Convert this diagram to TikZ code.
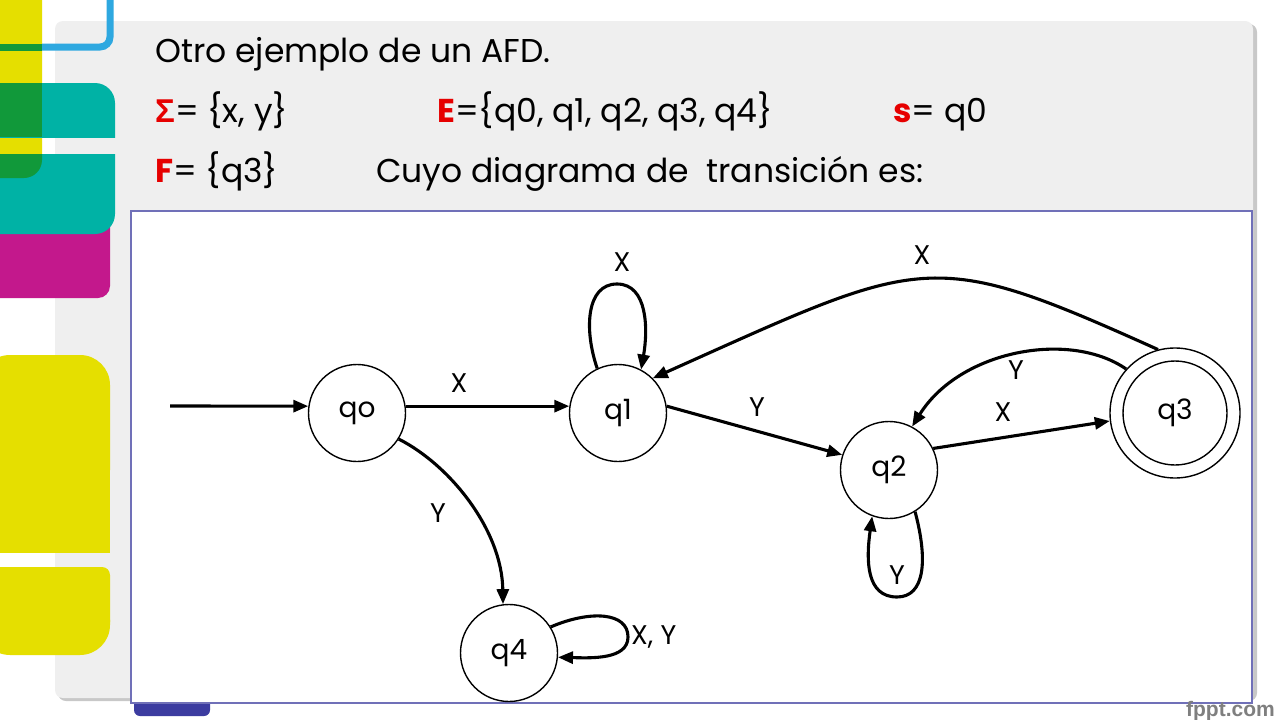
\documentclass[tikz,border=0pt]{standalone}
\usepackage{fontspec}
\setmainfont{Poppins}
\newfontfamily\symfont{Liberation Sans}
\newfontfamily\wmfont{Liberation Sans}
\usetikzlibrary{arrows.meta}
\definecolor{panelgrey}{HTML}{EFEFEF}
\definecolor{shadegrey}{HTML}{C8C8C8}
\definecolor{decoyellow}{HTML}{E5DF00}
\definecolor{decoteal}{HTML}{00B2A5}
\definecolor{decogreen}{HTML}{11993A}
\definecolor{decomag}{HTML}{C3188C}
\definecolor{decoblue}{HTML}{2EA8E0}
\definecolor{boxline}{HTML}{7070B8}
\definecolor{barblue}{HTML}{3C3CA0}
\definecolor{keyred}{HTML}{E60000}
\definecolor{wmgrey}{HTML}{7F7F7F}
\begin{document}
\begin{tikzpicture}[x=1pt,y=-1pt,
  state/.style={circle, draw, line width=1.4pt, minimum size=97pt, inner sep=0pt, font=\fontsize{28}{28}\selectfont},
  trans/.style={line width=3.1pt, -{Triangle[length=15pt,width=12pt]}},
  lab/.style={font=\fontsize{27}{27}\selectfont, inner sep=0pt},
  headtext/.style={anchor=base west, inner sep=0pt, font=\fontsize{33}{33}\selectfont}
]
\useasboundingbox (0,0) rectangle (1280,720);
\fill[white] (0,0) rectangle (1280,720);

% grey panel with shadow
\fill[shadegrey, rounded corners=8] (58,24) rectangle (1257,701);
\fill[panelgrey, rounded corners=8] (55,21) rectangle (1253,698);

% left decoration
\fill[decoyellow, rounded corners=18] (-20,-40) rectangle (42,178);
\fill[decogreen] (-5,43.5) rectangle (42,50.5);
\draw[decoblue, line width=7pt, rounded corners=10] (42,47) -- (110,47) -- (110,-10);
\fill[decomag, rounded corners=12] (-20,200) rectangle (110,298);
\begin{scope}
  \clip (0,83) rectangle (115,137);
  \fill[decoteal, rounded corners=20] (-20,83) rectangle (115,180);
\end{scope}
\begin{scope}
  \clip (0,154) rectangle (115,234);
  \fill[decoteal, rounded corners=20] (-20,100) rectangle (115,234);
\end{scope}
\fill[decogreen] (0,83) rectangle (42,137);
\begin{scope}
  \clip (0,154) rectangle (42,180);
  \fill[decogreen, rounded corners=18] (-20,100) rectangle (42,178);
\end{scope}
\fill[decoyellow, rounded corners=30] (-20,355) rectangle (110,500);
\fill[decoyellow] (-20,420) rectangle (110,553);
\fill[decoyellow, rounded corners=8] (-20,567) rectangle (110,630);
\fill[decoyellow, rounded corners=30] (-20,590) rectangle (110,655);

% header text
\node[headtext] (t1) at (155,62) {Otro ejemplo de un AFD.};
\node[headtext] (t2) at (155,122) {{\symfont\bfseries\color{keyred}Σ}= \{x, y\}};
\node[headtext] (t3) at (437,122) {{\color{keyred}\bfseries E}=\{q0, q1, q2, q3, q4\}};
\node[headtext] (t4) at (893,122) {{\color{keyred}\bfseries s}= q0};
\node[headtext] (t5) at (155,182) {{\color{keyred}\bfseries F}= \{q3\}};
\node[headtext] (t6) at (376,182) {Cuyo diagrama de\ \ transición es:};

% bottom bar and diagram box
\fill[barblue, rounded corners=6] (134,690) rectangle (210,716);
\draw[boxline, fill=white, line width=1.2pt] (131,211) rectangle (1252,703);

% watermark
\node[anchor=base east, inner sep=0pt, text=wmgrey, font=\wmfont\bfseries\fontsize{21}{21}\selectfont] (wm) at (1275,716) {fppt.com};

% states
\node[state] (q0) at (357,413) {qo};
\node[state] (q1) at (618,413) {q1};
\node[state] (q2) at (889,470) {q2};
\node[state, minimum size=130pt] (q3) at (1175,413) {};
\node[state, minimum size=104pt] (q3in) at (1175,413) {q3};
\node[state] (q4) at (509,653) {q4};

% transitions
\coordinate (init) at (170,406);
\draw[trans] (init) -- (q0.172);
\draw[trans] (q0.8) -- (q1.172);
\node[lab] (lx01) at (459,383) {X};

\draw[trans] (q1.115) .. controls (584,330) and (586,284) .. (617,284) .. controls (648,284) and (648,330) .. (q1.62);
\node[lab] (lx11) at (622,262) {X};

\draw[trans] (q1.8) -- (q2.162);
\node[lab] (ly12) at (757,407) {Y};

\draw[trans] (q2.26) -- (q3.187);
\node[lab] (lx23) at (1003,412) {X};

\draw[trans] (q3.138) .. controls (1070,330) and (960,350) .. (q2.62);
\node[lab] (ly32) at (1016,370) {Y};

\draw[trans] (q3.105) .. controls (928,246) and (926,256) .. (q1.45);
\node[lab] (lx31) at (922,255) {X};

\draw[trans] (q2.302) .. controls (928,560) and (925,597) .. (897,597) .. controls (866,597) and (866,560) .. (q2.250);
\node[lab] (ly22) at (897,575) {Y};

\draw[trans] (q0.328) .. controls (450,465) and (502,530) .. (q4.97);
\node[lab] (ly04) at (438,513) {Y};

\draw[trans] (q4.32) .. controls (590,610) and (628,612) .. (628,637) .. controls (628,660) and (590,658) .. (q4.355);
\node[lab, anchor=west] (lxy44) at (631,637) {X, Y};
\end{tikzpicture}
\end{document}
